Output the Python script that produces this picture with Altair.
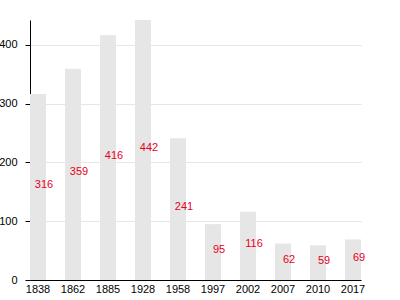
import altair as alt
import pandas as pd

years = ["1838", "1862", "1885", "1928", "1958", "1997", "2002", "2007", "2010", "2017"]
values = [316, 359, 416, 442, 241, 95, 116, 62, 59, 69]

df = pd.DataFrame({"year": years, "value": values})
df["half"] = df["value"] / 2

x = alt.X("year:N", sort=years, title=None,
          scale=alt.Scale(paddingInner=0.543, paddingOuter=0),
          axis=alt.Axis(labelAngle=0, ticks=False, labelPadding=3, grid=False,
                        domainColor="black", labelColor="black", labelFontSize=11,
                        labelFont="Liberation Sans"))

bars = alt.Chart(df).mark_bar(color="#e6e6e6").encode(
    x=x,
    y=alt.Y("value:Q", title=None,
            scale=alt.Scale(domain=[0, 442], nice=False),
            axis=alt.Axis(values=[0, 100, 200, 300, 400], grid=True, gridColor="#e6e6e6",
                          domainColor="black", tickColor="black", tickSize=5,
                          labelPadding=8, labelColor="black", labelFontSize=11,
                          labelFont="Liberation Sans")),
)

labels = alt.Chart(df).mark_text(color="#e8001c", fontSize=11, dx=6, dy=-2,
                                 font="Liberation Sans", baseline="middle").encode(
    x=alt.X("year:N", sort=years),
    y=alt.Y("half:Q"),
    text=alt.Text("value:Q"),
)

chart = (bars + labels).properties(
    width=331, height=260,
    autosize=alt.AutoSizeParams(type="none"),
    padding={"left": 30, "top": 20, "right": 9, "bottom": 20},
).configure_view(stroke=None)

chart.save("out.html", embed_options={"renderer": "svg", "actions": False})
